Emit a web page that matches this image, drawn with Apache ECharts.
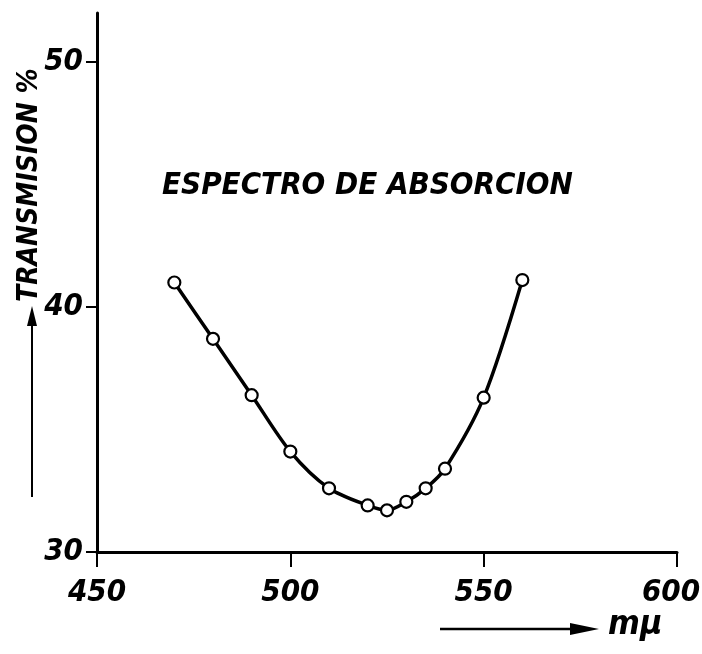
<!DOCTYPE html>
<html>
<head>
<meta charset="utf-8">
<script src="https://cdn.jsdelivr.net/npm/echarts@6/dist/echarts.min.js"></script>
<style>
html,body{margin:0;padding:0;background:#fff;}
#chart{width:702px;height:654px;}
</style>
</head>
<body>
<div id="chart"></div>
<script>
var wavelengths = [470, 480, 490, 500, 510, 520, 525, 530, 535, 540, 550, 560];
var transmission = [41.0, 38.7, 36.4, 34.1, 32.6, 31.9, 31.7, 32.05, 32.6, 33.4, 36.3, 41.1];
var xTicks = [450, 500, 550, 600];
var yTicks = [30, 40, 50];
var titleText = 'ESPECTRO DE ABSORCION';
var yName = 'TRANSMISION %';
var xName = 'mμ';

var handFont = '"Liberation Sans Narrow", "DejaVu Sans Condensed", sans-serif';
var labelStyle = { color: '#000', fontFamily: handFont, fontStyle: 'italic', fontWeight: 'bold', fontSize: 31 };

var chart = echarts.init(document.getElementById('chart'));
var option = {
  backgroundColor: '#fff',
  animation: false,
  grid: { left: 97, right: 25, top: 13, bottom: 102, containLabel: false, outerBoundsMode: 'none' },
  xAxis: {
    type: 'value', min: 450, max: 600, interval: 50,
    axisLine: { lineStyle: { color: '#000', width: 3 } },
    axisTick: { show: true, inside: false, length: 15, lineStyle: { color: '#000', width: 2 }, customValues: xTicks },
    axisLabel: {
      color: '#000', fontFamily: handFont, fontStyle: 'italic', fontWeight: 'bold', fontSize: 31, margin: 25,
      customValues: xTicks,
      formatter: function (v) { return v === 600 ? '{last|' + v + '}' : '' + v; },
      rich: { last: Object.assign({ padding: [0, 12, 6, 0] }, labelStyle) }
    },
    splitLine: { show: false }
  },
  yAxis: {
    type: 'value', min: 30, max: 52, interval: 10,
    axisLine: { show: true, lineStyle: { color: '#000', width: 3 } },
    axisTick: { show: true, inside: false, length: 11, lineStyle: { color: '#000', width: 2 }, customValues: yTicks },
    axisLabel: { color: '#000', fontFamily: handFont, fontStyle: 'italic', fontWeight: 'bold', fontSize: 31, margin: 14, customValues: yTicks },
    splitLine: { show: false }
  },
  graphic: [
    { type: 'text', left: 162, top: 170, style: { text: titleText, fill: '#000', font: 'italic bold 31px ' + handFont } },
    { type: 'text', x: 30, y: 302, rotation: Math.PI / 2, style: { text: yName, fill: '#000', font: 'italic bold 28px ' + handFont, textAlign: 'left', textVerticalAlign: 'middle' } },
    { type: 'line', shape: { x1: 32, y1: 497, x2: 32, y2: 322 }, style: { stroke: '#000', lineWidth: 2 } },
    { type: 'polygon', shape: { points: [[32, 306], [27, 326], [37, 326]] }, style: { fill: '#000' } },
    { type: 'line', shape: { x1: 440, y1: 629, x2: 580, y2: 629 }, style: { stroke: '#000', lineWidth: 2.5 } },
    { type: 'polygon', shape: { points: [[599, 629], [570, 623], [570, 635]] }, style: { fill: '#000' } },
    { type: 'text', left: 608, top: 608, style: { text: xName, fill: '#000', font: 'italic bold 34px ' + handFont } }
  ],
  series: [{
    type: 'line',
    data: wavelengths.map(function (w, i) { return [w, transmission[i]]; }),
    smooth: 0.3,
    symbol: 'circle',
    symbolSize: 12,
    lineStyle: { color: '#000', width: 3.5 },
    itemStyle: { color: '#fff', borderColor: '#000', borderWidth: 2.2 }
  }]
};
chart.setOption(option);
</script>
</body>
</html>
